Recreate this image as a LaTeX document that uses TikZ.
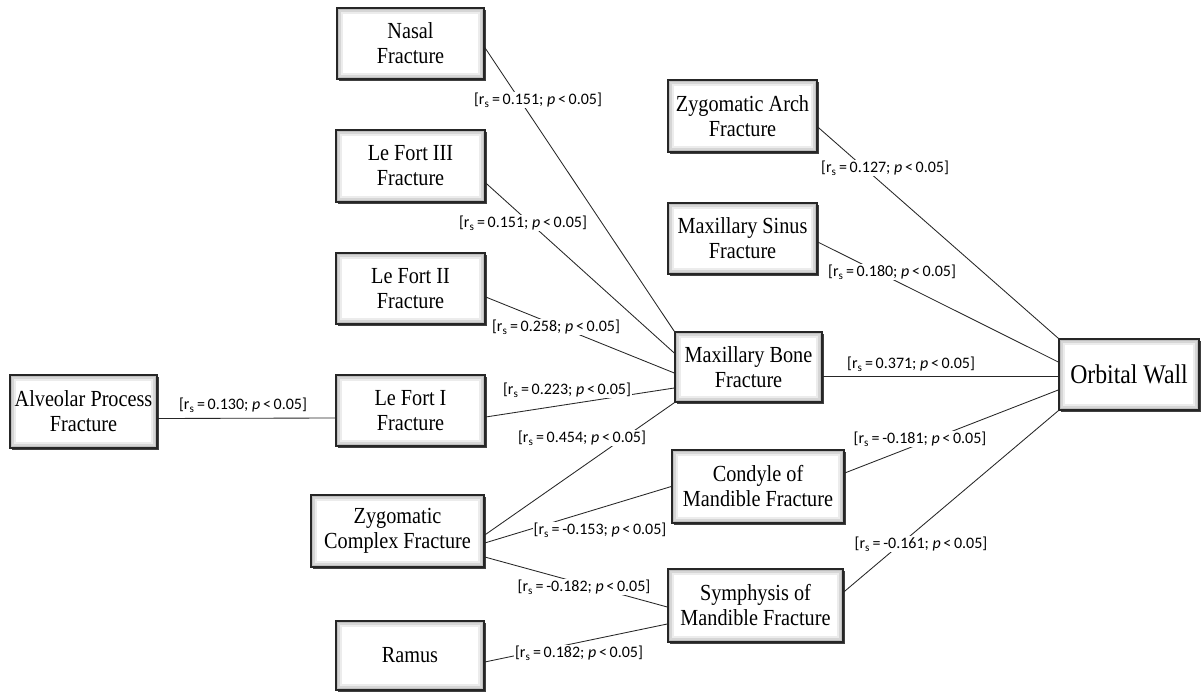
\documentclass[tikz,border=0pt]{standalone}
\usepackage{fontspec}
\setmainfont{Liberation Serif}
\newfontfamily\boxfont[FakeStretch=0.88]{Liberation Serif}
\newfontfamily\labfont{Carlito}
\usetikzlibrary{shadows}
\newcommand\rsl[1]{[r\textsubscript{s}\,=\,#1; \textit{p}\,<\,0.05]}
\begin{document}
\begin{tikzpicture}[x=1pt,y=-1pt,
  box/.style={draw=black!85, line width=1.5pt, fill=gray!50, align=center,
    font=\boxfont\fontsize{23}{25}\selectfont, inner sep=0pt,
    drop shadow={shadow xshift=1.8pt, shadow yshift=-1.8pt, fill=black!75, opacity=1},
    path picture={
      \fill[gray!32] ([shift={(2pt,-2pt)}]path picture bounding box.north west) rectangle ([shift={(-2pt,2pt)}]path picture bounding box.south east);
      \fill[gray!15] ([shift={(4pt,-4pt)}]path picture bounding box.north west) rectangle ([shift={(-4pt,4pt)}]path picture bounding box.south east);
      \fill[white] ([shift={(6pt,-6pt)}]path picture bounding box.north west) rectangle ([shift={(-6pt,6pt)}]path picture bounding box.south east);
    }},
  lab/.style={fill=white, inner sep=1pt, font=\labfont\fontsize{16}{18}\selectfont},
  conn/.style={draw=black!85, line width=0.85pt}]
\useasboundingbox[fill=white] (0,0) rectangle (1201,692);

% boxes
\node[box, minimum width=147pt, minimum height=71pt] (nasal) at (410.5,43.5) {Nasal\\Fracture};
\node[box, minimum width=149pt, minimum height=72pt] (lf3) at (410.5,166) {Le Fort III\\Fracture};
\node[box, minimum width=149pt, minimum height=71pt] (lf2) at (410.5,288.5) {Le Fort II\\Fracture};
\node[box, minimum width=149pt, minimum height=71pt] (lf1) at (410.5,410.5) {Le Fort I\\Fracture};
\node[box, minimum width=147pt, minimum height=73pt] (alv) at (83.5,411.5) {Alveolar Process\\Fracture};
\node[box, minimum width=173pt, minimum height=72pt] (zyc) at (397.5,531) {Zygomatic\\Complex Fracture};
\node[box, minimum width=148pt, minimum height=69pt] (ramus) at (410,655.5) {Ramus};
\node[box, minimum width=147pt, minimum height=70pt] (maxb) at (748.5,367) {Maxillary Bone\\Fracture};
\node[box, minimum width=149pt, minimum height=72pt] (zarch) at (742.5,116) {Zygomatic Arch\\Fracture};
\node[box, minimum width=149pt, minimum height=71pt] (msin) at (742.5,238.5) {Maxillary Sinus\\Fracture};
\node[box, minimum width=140pt, minimum height=71pt, font=\boxfont\fontsize{27}{29}\selectfont] (orb) at (1129,374.5) {Orbital Wall};
\node[box, minimum width=172pt, minimum height=73pt] (cond) at (758,486.5) {Condyle of\\Mandible Fracture};
\node[box, minimum width=175pt, minimum height=73pt] (symp) at (755.5,605.5) {Symphysis of\\Mandible Fracture};

% connectors
\draw[conn] ([yshift=-4pt]nasal.east) -- (maxb.north west);
\draw[conn] ([yshift=-17pt]lf3.east) -- ([yshift=14pt]maxb.west);
\draw[conn] ([yshift=-8.5pt]lf2.east) -- ([yshift=-6pt]maxb.west);
\draw[conn] ([yshift=-6.5pt]lf1.east) -- ([yshift=-21pt]maxb.west);
\draw[conn] ([yshift=-4pt]zyc.east) -- (maxb.south west);
\draw[conn] ([yshift=-7pt]alv.east) -- ([yshift=-7.5pt]lf1.west);
\draw[conn] ([yshift=-9pt]maxb.east) -- ([yshift=-1.5pt]orb.west);
\draw[conn] ([yshift=-11pt]zarch.east) -- (orb.north west);
\draw[conn] ([yshift=-3.5pt]msin.east) -- ([yshift=12.5pt]orb.west);
\draw[conn] ([yshift=13.5pt]cond.east) -- ([yshift=-15.5pt]orb.west);
\draw[conn] ([yshift=13.5pt]symp.east) -- (orb.south west);
\draw[conn] ([yshift=-12pt]zyc.east) -- (cond.west);
\draw[conn] ([yshift=-26pt]zyc.east) -- ([yshift=-1.5pt]symp.west);
\draw[conn] ([yshift=-6.5pt]ramus.east) -- ([yshift=-18.5pt]symp.west);

% labels
\node[lab] (l1) at (538,100) {\rsl{0.151}};
\node[lab] (l2) at (523,223) {\rsl{0.151}};
\node[lab] (l3) at (556,327) {\rsl{0.258}};
\node[lab] (l4) at (567,390) {\rsl{0.223}};
\node[lab] (l5) at (582,438) {\rsl{0.454}};
\node[lab] (l6) at (243,405) {\rsl{0.130}};
\node[lab] (l7) at (885,168) {\rsl{0.127}};
\node[lab] (l8) at (892,272) {\rsl{0.180}};
\node[lab] (l9) at (911,364) {\rsl{0.371}};
\node[lab] (l10) at (920,439) {\rsl{-0.181}};
\node[lab] (l11) at (921,544) {\rsl{-0.161}};
\node[lab] (l12) at (600,530) {\rsl{-0.153}};
\node[lab] (l13) at (584,587) {\rsl{-0.182}};
\node[lab] (l14) at (579,653) {\rsl{0.182}};
\end{tikzpicture}
\end{document}
